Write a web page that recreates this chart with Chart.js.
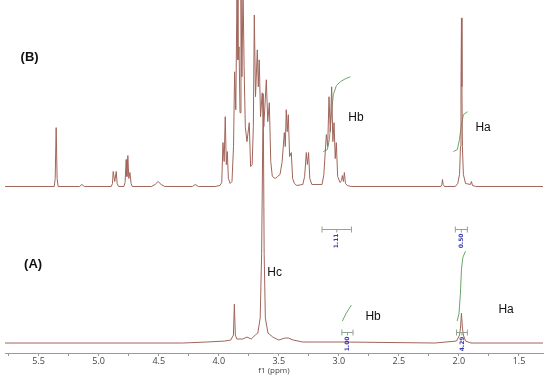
<!DOCTYPE html>
<html>
<head>
<meta charset="utf-8">
<script src="https://cdn.jsdelivr.net/npm/chart.js@4/dist/chart.umd.min.js"></script>
<style>
html,body{margin:0;padding:0;background:#fff;}
#c{display:block;}
</style>
</head>
<body>
<canvas id="c" width="550" height="376"></canvas>
<script>
// spectrum (B): chemical shift (ppm) and intensity above its own baseline
const ppmB = [5.78,5.37,5.362,5.354,5.346,5.338,5.16,5.14,5.12,
4.895,4.885,4.879,4.866,4.854,4.846,4.835,
4.79,4.78,4.771,4.765,4.757,4.749,4.740,4.73,4.72,
4.56,4.53,4.505,4.48,4.45,4.22,4.196,4.17,
4.03,3.99,3.975,3.965,3.955,3.946,3.937,3.929,3.92,3.905,3.89,
3.877,3.868,3.858,3.848,3.84,3.831,3.823,3.815,3.807,3.798,3.789,3.779,
3.765,3.746,3.735,3.722,3.712,3.704,3.694,3.679,3.671,3.663,3.652,3.638,3.625,3.604,3.592,3.579,3.567,3.554,
3.53,3.51,3.49,3.472,3.454,3.446,3.438,3.430,3.421,3.410,3.396,3.385,3.37,3.35,
3.30,3.285,3.271,3.262,3.252,3.242,3.225,
3.14,3.125,3.104,3.093,3.082,3.071,3.060,3.050,3.040,3.030,3.021,3.010,2.99,
2.978,2.971,2.962,2.954,2.945,2.93,2.90,
2.15,2.142,2.137,2.131,2.12,
2.03,2.01,1.995,1.987,1.983,1.979,1.975,1.971,1.963,1.945,
1.905,1.896,1.887,1.86,1.30]
const intB = [0,0,8,59,8,0,0,2,0,
0,3,15,5,15,3,0,
0,4,27,10,31,8,14,3,0,
0,2,5,2,0,0,2,0,
0,1,4,44,25,70,22,35,8,3,5,
40,115,77,200,127,140,74,200,110,200,120,60,
45,64,20,22,60,172,90,137,100,127,70,94,60,107,65,84,25,10,
8,10,12,25,54,40,77,55,72,30,34,8,3,1,
2,10,34,22,34,8,2,
2,12,52,40,90,55,100,45,64,28,44,10,4,
6,11,5,14,3,1,0,
0,2,7,2,0,
0,3,12,40,100,169,100,40,12,3,
2,5,1,0,0]

// spectrum (A)
const ppmA = [5.78,4.30,4.10,3.95,3.90,3.878,3.870,3.862,3.85,3.80,3.765,3.73,3.696,3.675,3.655,
3.643,3.630,3.622,3.612,3.59,3.55,3.50,3.45,3.42,3.38,3.30,3.20,2.95,2.20,2.02,
1.995,1.987,1.979,1.971,1.963,1.945,1.90,1.30]
const intA = [0,0,1,2,3,8,39,8,4,4,6,4,8,10,25,
90,250,90,25,10,6,3,5,5,3,1,1,1,0,2,
8,15,30,15,8,2,0,0]

// integral curves (green)
const igBbPpm = [3.129,3.096,3.079,3.062,3.046,3.021,2.988,2.946,2.904]
const igBbVal = [35,37,47,72,92,101,105,108,110]
const igBaPpm = [2.046,2.013,1.996,1.979,1.963,1.929]
const igBaVal = [35,37,47,62,72,75]
const igAbPpm = [2.971,2.938,2.896]
const igAbVal = [22,30,38]
const igAaPpm = [2.015,2.000,1.988,1.979,1.967,1.946]
const igAaVal = [22,29,49,74,86,92]

// integration ranges and values
const intFrom = [3.14,2.03,2.975,2.02]
const intTo = [2.895,1.93,2.882,1.93]
const intLabel = ["1.11","0.50","1.00","4.29"]

// axis ticks
const tickVals = [1.5,1.75,2.0,2.25,2.5,2.75,3.0,3.25,3.5,3.75,4.0,4.25,4.5,4.75,5.0,5.25,5.5,5.75]
const tickLabels = ["1.5","2.0","2.5","3.0","3.5","4.0","4.5","5.0","5.5"]

const baseA = 10, baseB = 167

function pts(xs, ys, off){
  return xs.map((x,i)=>({x:x, y:ys[i]+off}))
}

const traceColor = "#a0655a"
const igColor = "#6aa56a"

const labels = [
  {t:"(B)", x:5.575, y:296, bold:true},
  {t:"(A)", x:5.546, y:89, bold:true},
  {t:"Hc", x:3.596, y:81, left:true},
  {t:"Hb", x:2.921, y:236, left:true},
  {t:"Ha", x:1.863, y:226, left:true},
  {t:"Hb", x:2.779, y:36, left:true},
  {t:"Ha", x:1.671, y:43, left:true}
]
const bracketH = [124,124,21,21]

const annot = {
  id:"annot",
  afterDatasetsDraw(chart){
    const ctx = chart.ctx, xs = chart.scales.x, ys = chart.scales.y
    ctx.save()
    // integration brackets
    intFrom.forEach((f,i)=>{
      const x1 = xs.getPixelForValue(f), x2 = xs.getPixelForValue(intTo[i])
      const y = Math.round(ys.getPixelForValue(bracketH[i]))+0.5
      const xm = (x1+x2)/2
      ctx.strokeStyle = "#8fa58f"
      ctx.lineWidth = 1
      ctx.beginPath()
      ctx.moveTo(x1,y); ctx.lineTo(x2,y)
      ctx.moveTo(x1,y-3); ctx.lineTo(x1,y+3)
      ctx.moveTo(x2,y-3); ctx.lineTo(x2,y+3)
      ctx.moveTo(xm,y); ctx.lineTo(xm,y+3)
      ctx.stroke()
      ctx.save()
      ctx.translate(xm, y+4)
      ctx.rotate(-Math.PI/2)
      ctx.fillStyle = "#3b3bb0"
      ctx.font = "bold 6px 'DejaVu Sans'"
      ctx.textAlign = "right"
      ctx.textBaseline = "middle"
      ctx.fillText(intLabel[i], 0, 0)
      ctx.restore()
    })
    // text labels
    labels.forEach(l=>{
      ctx.fillStyle = "#111"
      ctx.font = (l.bold ? "bold 13px" : "12px") + " 'Liberation Sans', Arial, sans-serif"
      ctx.textAlign = l.left ? "left" : "center"
      ctx.textBaseline = "middle"
      ctx.fillText(l.t, xs.getPixelForValue(l.x), ys.getPixelForValue(l.y))
    })
    ctx.restore()
  }
}

const ds = (data, color) => ({
  data: data, borderColor: color, borderWidth: 1, pointRadius: 0,
  tension: 0, fill: false
})

new Chart(document.getElementById("c"), {
  type: "line",
  data: {
    datasets: [
      ds(pts(ppmB, intB, baseB), traceColor),
      ds(pts(ppmA, intA, baseA), traceColor),
      ds(pts(igBbPpm, igBbVal, baseB), igColor),
      ds(pts(igBaPpm, igBaVal, baseB), igColor),
      ds(pts(igAbPpm, igAbVal, baseA), igColor),
      ds(pts(igAaPpm, igAaVal, baseA), igColor)
    ]
  },
  options: {
    responsive: false,
    animation: false,
    events: [],
    layout: {padding: {left: 5, right: 7, top: 0, bottom: 1}},
    plugins: {legend: {display: false}, tooltip: {enabled: false}},
    scales: {
      x: {
        type: "linear",
        reverse: true,
        min: 1.3,
        max: 5.78,
        afterBuildTicks: s => { s.ticks = tickVals.map(v => ({value: v})) },
        grid: {drawOnChartArea: false, drawTicks: true, tickLength: 3, color: "#999"},
        border: {display: true, color: "#9a9a9a"},
        ticks: {
          autoSkip: false, maxRotation: 0, padding: 1,
          color: "#444",
          font: {size: 9, family: "'Open Sans', 'DejaVu Sans', sans-serif", lineHeight: 1},
          callback: v => {
            const s = v.toFixed(1)
            return tickLabels.includes(s) && Math.abs(v*2 - Math.round(v*2)) < 1e-6 ? s : ""
          }
        },
        title: {
          display: true, text: "f1 (ppm)", color: "#444", padding: 0,
          font: {size: 8, family: "'Open Sans', 'DejaVu Sans', sans-serif", lineHeight: 1}
        }
      },
      y: {display: false, min: 0, max: 354}
    }
  },
  plugins: [annot]
})
</script>
</body>
</html>
